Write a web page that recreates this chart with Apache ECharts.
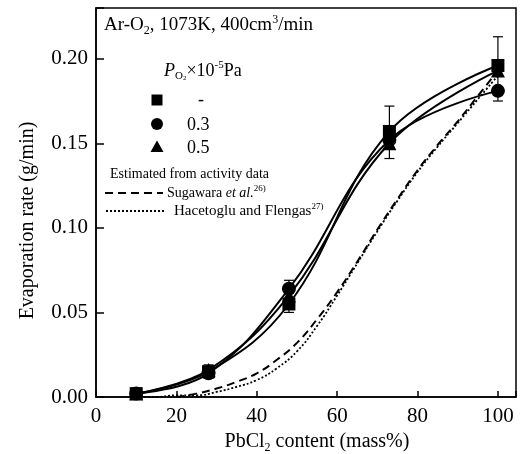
<!DOCTYPE html>
<html>
<head>
<meta charset="utf-8">
<script src="https://cdn.jsdelivr.net/npm/echarts@6/dist/echarts.min.js"></script>
<style>html,body{margin:0;padding:0;background:#fff}#c{width:527px;height:454px}</style>
</head>
<body>
<div id="c"></div>
<script>
// ---- data ----
var pbcl2 = [10, 28, 48, 73, 100];
var rateNoO2 = [0.002, 0.015, 0.055, 0.157, 0.196];   // squares
var rate03 = [0.002, 0.014, 0.064, 0.152, 0.181];     // circles
var rate05 = [0.002, 0.016, 0.060, 0.150, 0.193];     // triangles
var errLow = [0.000, 0.011, 0.050, 0.141, 0.175];
var errHigh = [0.004, 0.019, 0.069, 0.172, 0.213];

var sugX = [20, 25, 30, 35, 40, 45, 50, 55, 60, 65, 70, 75, 80, 85, 90, 95, 100];
var sugY = [0.000, 0.002, 0.005, 0.009, 0.014, 0.022, 0.032, 0.046, 0.062, 0.080, 0.099, 0.117, 0.134, 0.149, 0.163, 0.178, 0.193];
var hacX = [10, 15, 20, 25, 30, 35, 40, 45, 50, 55, 60, 65, 70, 75, 80, 85, 90, 95, 100];
var hacY = [0.000, 0.000, 0.001, 0.001, 0.003, 0.006, 0.010, 0.017, 0.027, 0.042, 0.060, 0.079, 0.098, 0.116, 0.133, 0.148, 0.162, 0.176, 0.190];

var xTicks = [0, 20, 40, 60, 80, 100];
var yTicks = [0.00, 0.05, 0.10, 0.15, 0.20];

function zip(a, b) { return a.map(function (v, i) { return [v, b[i]]; }); }

var FF = '"Liberation Serif", "Times New Roman", serif';
var chart = echarts.init(document.getElementById('c'), null, { renderer: 'canvas' });

function richSet(fs) {
  return {
    n: { fontFamily: FF, fontSize: fs, lineHeight: fs + 4, color: '#000' },
    i: { fontFamily: FF, fontSize: fs, fontStyle: 'italic', lineHeight: fs + 4, color: '#000' },
    sub: { fontFamily: FF, fontSize: Math.round(fs * 0.62), lineHeight: Math.round(fs * 0.62), verticalAlign: 'bottom', color: '#000' },
    sup: { fontFamily: FF, fontSize: Math.round(fs * 0.62), lineHeight: Math.round(fs * 0.62), verticalAlign: 'top', color: '#000' }
  };
}

var option = {
  animation: false,
  backgroundColor: '#fff',
  grid: { left: 96, right: 11, top: 8, bottom: 57, show: true, borderColor: '#000', borderWidth: 1.5, backgroundColor: 'transparent', containLabel: false, outerBoundsMode: 'none' },
  xAxis: {
    type: 'value', min: 0, max: 104.5, interval: 20,
    axisLine: { show: true, onZero: false, lineStyle: { color: '#000', width: 1.5 } },
    axisTick: { show: true, inside: true, length: 6, lineStyle: { color: '#000', width: 1.5 } },
    splitLine: { show: false },
    axisLabel: {
      margin: 9, color: '#000', fontFamily: FF, fontSize: 21,
      formatter: function (v) { return xTicks.indexOf(v) >= 0 ? String(v) : ''; }
    },
    name: '{n|PbCl}{sub|2}{n| content (mass%)}',
    nameLocation: 'middle', nameGap: 32,
    nameTextStyle: { padding: [0, 0, 0, 22], rich: richSet(20) }
  },
  yAxis: {
    type: 'value', min: 0, max: 0.23, interval: 0.05,
    axisLine: { show: true, onZero: false, lineStyle: { color: '#000', width: 1.5 } },
    axisTick: { show: true, inside: true, length: 8, lineStyle: { color: '#000', width: 1.5 } },
    splitLine: { show: false },
    axisLabel: {
      margin: 8, color: '#000', fontFamily: FF, fontSize: 21,
      formatter: function (v) {
        for (var k = 0; k < yTicks.length; k++) { if (Math.abs(v - yTicks[k]) < 1e-9) return yTicks[k].toFixed(2); }
        return '';
      }
    },
    name: 'Evaporation rate (g/min)',
    nameLocation: 'middle', nameGap: 58,
    nameTextStyle: { color: '#000', fontFamily: FF, fontSize: 20, padding: [0, 36, 0, 0] }
  },
  series: [
    {
      name: '-', type: 'line', data: zip(pbcl2, rateNoO2), smooth: 0.4,
      symbol: 'rect', symbolSize: 13, z: 5,
      lineStyle: { color: '#000', width: 2 }, itemStyle: { color: '#000' }
    },
    {
      name: '0.3', type: 'line', data: zip(pbcl2, rate03), smooth: 0.4,
      symbol: 'circle', symbolSize: 14, z: 5,
      lineStyle: { color: '#000', width: 2 }, itemStyle: { color: '#000' }
    },
    {
      name: '0.5', type: 'line', data: zip(pbcl2, rate05), smooth: 0.4,
      symbol: 'triangle', symbolSize: 14, z: 5,
      lineStyle: { color: '#000', width: 2 }, itemStyle: { color: '#000' }
    },
    {
      name: 'err', type: 'custom', z: 6,
      data: pbcl2.map(function (x, i) { return [x, errLow[i], errHigh[i]]; }),
      renderItem: function (params, api) {
        var lo = api.coord([api.value(0), api.value(1)]);
        var hi = api.coord([api.value(0), api.value(2)]);
        var w = 5;
        var st = { stroke: '#000', lineWidth: 1.2, fill: null };
        return {
          type: 'group', children: [
            { type: 'line', shape: { x1: lo[0], y1: lo[1], x2: hi[0], y2: hi[1] }, style: st },
            { type: 'line', shape: { x1: lo[0] - w, y1: lo[1], x2: lo[0] + w, y2: lo[1] }, style: st },
            { type: 'line', shape: { x1: hi[0] - w, y1: hi[1], x2: hi[0] + w, y2: hi[1] }, style: st }
          ]
        };
      }
    },
    {
      name: 'Sugawara', type: 'line', data: zip(sugX, sugY), smooth: true, symbol: 'none', z: 3,
      lineStyle: { color: '#000', width: 2, type: [8, 5] }
    },
    {
      name: 'Hacetoglu', type: 'line', data: zip(hacX, hacY), smooth: true, symbol: 'none', z: 3,
      lineStyle: { color: '#000', width: 1.8, type: [2, 2] }
    }
  ],
  graphic: [
    { type: 'text', left: 104, top: 14, style: { text: '{n|Ar-O}{sub|2}{n|, 1073K, 400cm}{sup|3}{n|/min}', rich: richSet(19) } },
    { type: 'text', left: 164, top: 60, style: { text: '{i|P}{sub|O}{sub2|2}{n|×10}{sup|-5}{n|Pa}', rich: Object.assign(richSet(18), { sub2: { fontFamily: FF, fontSize: 7, lineHeight: 4, verticalAlign: 'bottom', color: '#000' } }) } },
    { type: 'rect', shape: { x: 151.5, y: 94.5, width: 11, height: 11 }, style: { fill: '#000' } },
    { type: 'circle', shape: { cx: 157, cy: 124, r: 6 }, style: { fill: '#000' } },
    { type: 'polygon', shape: { points: [[157, 140.5], [150.5, 152], [163.5, 152]] }, style: { fill: '#000' } },
    { type: 'text', x: 198, y: 100, style: { text: '-', font: '18px ' + FF, fill: '#000', verticalAlign: 'middle' } },
    { type: 'text', x: 187, y: 125, style: { text: '0.3', font: '18px ' + FF, fill: '#000', verticalAlign: 'middle' } },
    { type: 'text', x: 187, y: 148, style: { text: '0.5', font: '18px ' + FF, fill: '#000', verticalAlign: 'middle' } },
    { type: 'text', x: 110, y: 174, style: { text: 'Estimated from activity data', font: '14px ' + FF, fill: '#000', verticalAlign: 'middle' } },
    { type: 'line', shape: { x1: 105, y1: 193, x2: 163, y2: 193 }, style: { stroke: '#000', lineWidth: 2, lineDash: [8, 5] } },
    { type: 'text', left: 167, top: 184, style: { text: '{n|Sugawara }{i|et al.}{sup|26)}', rich: richSet(14) } },
    { type: 'line', shape: { x1: 106, y1: 211, x2: 165, y2: 211 }, style: { stroke: '#000', lineWidth: 1.8, lineDash: [2, 2] } },
    { type: 'text', left: 174, top: 202, style: { text: '{n|Hacetoglu and Flengas}{sup|27)}', rich: richSet(15) } }
  ]
};
chart.setOption(option);
</script>
</body>
</html>
